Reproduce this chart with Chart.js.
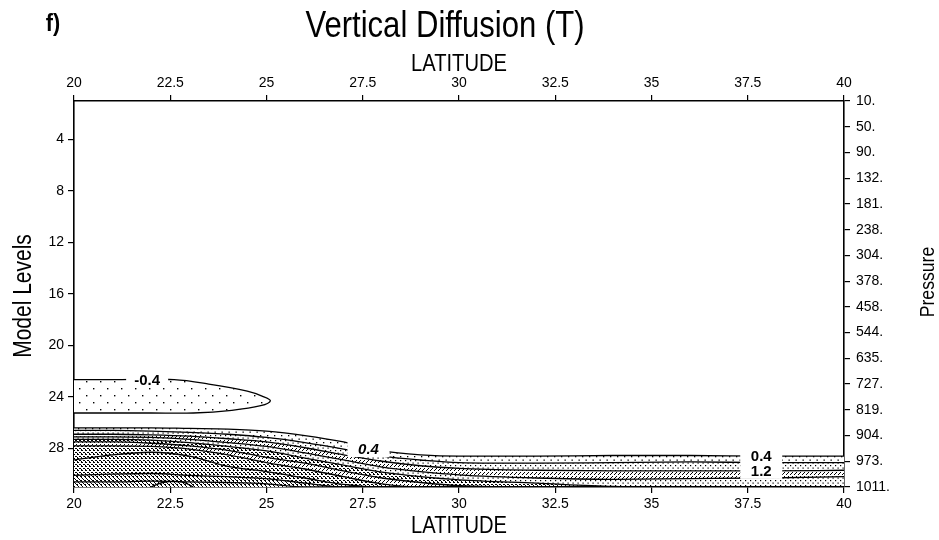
<!DOCTYPE html>
<html>
<head>
<meta charset="utf-8">
<script src="https://cdn.jsdelivr.net/npm/chart.js@4.4.1/dist/chart.umd.min.js"></script>
<style>
  html, body { margin: 0; padding: 0; background: #fff; }
  #wrap { width: 939px; height: 540px; }
</style>
</head>
<body>
<div id="wrap"><canvas id="chart" width="939" height="540"></canvas></div>
<script>
const lats = [20, 21, 22, 23, 24, 25, 26, 27, 28, 29, 30, 32, 34, 36, 38, 40]

// model level of each contour (interval 0.4), surface is level 31
const c04 = [26.4, 26.4, 26.4, 26.45, 26.5, 26.65, 27.0, 27.5, 28.2, 28.5, 28.6, 28.6, 28.55, 28.55, 28.6, 28.6]
const c08 = [26.6, 26.6, 26.65, 26.75, 26.9, 27.15, 27.55, 28.05, 28.6, 28.9, 29.1, 29.15, 29.1, 29.05, 29.1, 29.1]
const c12 = [26.9, 26.9, 26.95, 27.05, 27.25, 27.5, 27.95, 28.5, 29.0, 29.35, 29.55, 29.7, 29.75, 29.75, 29.75, 29.7]
const c16 = [27.1, 27.1, 27.15, 27.3, 27.55, 27.85, 28.35, 28.9, 29.45, 29.8, 30.05, 30.3, 30.4, 30.35, 30.3, 30.2]
const c20 = [27.3, 27.3, 27.35, 27.55, 27.85, 28.2, 28.75, 29.3, 29.85, 30.2, 30.45, 30.7, 30.95, 31, 31, 31]
const c24 = [27.5, 27.5, 27.6, 27.8, 28.15, 28.7, 29.15, 29.75, 30.3, 30.65, 30.9, 31, 31, 31, 31, 31]
const c28 = [27.8, 27.8, 27.85, 28.05, 28.5, 29.1, 29.6, 30.2, 30.75, 31, 31, 31, 31, 31, 31, 31]
const c32 = [28.9, 28.5, 28.3, 28.6, 29.4, 29.8, 30.3, 30.8, 31, 31, 31, 31, 31, 31, 31, 31]
const c36 = [30.1, 30.0, 29.95, 30.1, 30.2, 30.35, 30.7, 31, 31, 31, 31, 31, 31, 31, 31, 31]
const c40 = [30.6, 30.6, 30.55, 30.6, 30.65, 30.75, 31, 31, 31, 31, 31, 31, 31, 31, 31, 31]

const contours = [c04, c08, c12, c16, c20, c24, c28, c32, c36, c40]
const contourValues = ['0.4', '0.8', '1.2', '1.6', '2.0', '2.4', '2.8', '3.2', '3.6', '4.0']

// closed -0.4 contour, in path order
const negLats = [20, 21, 22.6, 23.5, 24.5, 24.9, 25.1, 24.85, 24.1, 23.1, 22, 21, 20]
const negLevels = [22.65, 22.65, 22.66, 23.0, 23.55, 23.95, 24.3, 24.68, 25.04, 25.25, 25.25, 25.25, 25.25]

// small closed contour at the surface
const bumpLats = [22.0, 22.3, 22.8, 23.1]
const bumpLevels = [31, 30.65, 30.6, 31]

const levelTicks = [4, 8, 12, 16, 20, 24, 28]
const pressureLevels = [1, 3, 5, 7, 9, 11, 13, 15, 17, 19, 21, 23, 25, 27, 29, 31]
const pressureLabels = ['10.', '50.', '90.', '132.', '181.', '238.', '304.', '378.', '458.', '544.', '635.', '727.', '819.', '904.', '973.', '1011.']

const lineLabels = [
  { text: '-0.4', lat: 21.9, level: 22.65, italic: false },
  { text: '0.4', lat: 27.65, level: 28.05, italic: true },
  { text: '0.4', lat: 37.85, level: 28.6, italic: false },
  { text: '1.2', lat: 37.85, level: 29.75, italic: false }
]

function pattern(size, dots, d) {
  const c = document.createElement('canvas')
  c.width = size
  c.height = size
  const g = c.getContext('2d')
  g.fillStyle = '#fff'
  g.fillRect(0, 0, size, size)
  g.fillStyle = '#000'
  dots.forEach(([x, y]) => g.fillRect(x, y, d || 1, d || 1))
  return g.createPattern(c, 'repeat')
}

const wide = pattern(14, [[2, 3], [9, 10]], 1.4)
const sparse = pattern(7, [[1, 1], [4.5, 4.5]], 1.3)
const medium = pattern(5, [[0, 0], [2.5, 2.5]], 1.2)
const cross = pattern(4, [[0, 0], [1, 1], [2, 2], [3, 0], [1, 2]])
const light = pattern(4, [[0, 0], [2, 2], [3, 1]])
const hatch = pattern(4, [[0, 0], [1, 1], [2, 2], [3, 3], [1, 0]])

const bandFills = [sparse, medium, light, medium, cross, light, cross, cross, hatch, hatch]

const font = { family: 'Liberation Sans, Arial, sans-serif', size: 14 }

const datasets = contours.map((lev, i) => ({
  label: contourValues[i],
  data: lats.map((x, j) => ({ x: x, y: lev[j] })),
  borderColor: '#000',
  borderWidth: 1.3,
  pointRadius: 0,
  cubicInterpolationMode: 'monotone',
  fill: i < contours.length - 1 ? '+1' : { value: 31 },
  backgroundColor: bandFills[i]
}))

datasets.push({
  label: '-0.4',
  data: negLats.map((x, j) => ({ x: x, y: negLevels[j] })),
  borderColor: '#000',
  borderWidth: 1.3,
  pointRadius: 0,
  tension: 0.35,
  fill: 'shape',
  backgroundColor: wide
})

datasets.push({
  label: 'bump',
  data: bumpLats.map((x, j) => ({ x: x, y: bumpLevels[j] })),
  borderColor: '#000',
  borderWidth: 1.3,
  pointRadius: 0,
  tension: 0.4,
  fill: 'shape',
  backgroundColor: hatch
})

function narrowText(ctx, text, x, y, size, opts) {
  opts = opts || {}
  ctx.save()
  ctx.translate(x, y)
  if (opts.rotate) ctx.rotate(opts.rotate)
  ctx.scale(opts.sx || 0.84, 1)
  ctx.font = (opts.bold ? 'bold ' : '') + size + 'px "Liberation Sans", Arial, sans-serif'
  ctx.fillStyle = '#000'
  ctx.textAlign = 'center'
  ctx.textBaseline = 'alphabetic'
  ctx.fillText(text, 0, 0)
  ctx.restore()
}

const textPlugin = {
  id: 'texts',
  afterDatasetsDraw(chart) {
    const ctx = chart.ctx
    const xs = chart.scales.x
    const ys = chart.scales.y
    lineLabels.forEach(l => {
      const px = xs.getPixelForValue(l.lat)
      const py = ys.getPixelForValue(l.level)
      ctx.save()
      ctx.fillStyle = '#fff'
      ctx.fillRect(px - 21, py - 8, 42, 16)
      ctx.font = (l.italic ? 'italic ' : '') + 'bold 15px "Liberation Sans", Arial, sans-serif'
      ctx.fillStyle = '#000'
      ctx.textAlign = 'center'
      ctx.textBaseline = 'middle'
      ctx.fillText(l.text, px, py + 1)
      ctx.restore()
    })
  },
  afterDraw(chart) {
    const ctx = chart.ctx
    const a = chart.chartArea
    const mid = (a.left + a.right) / 2
    narrowText(ctx, 'f)', 53, 31, 24, { bold: true, sx: 0.9 })
    narrowText(ctx, 'Vertical Diffusion (T)', mid - 14, 37, 37)
    narrowText(ctx, 'LATITUDE', mid, 71, 24)
    narrowText(ctx, 'LATITUDE', mid, 533, 24)
    narrowText(ctx, 'Model Levels', 31, (a.top + a.bottom) / 2 + 2, 25, { rotate: -Math.PI / 2 })
    narrowText(ctx, 'Pressure', 934, (a.top + a.bottom) / 2 - 12, 21, { rotate: -Math.PI / 2 })
  }
}

const axisGrid = { drawOnChartArea: false, color: '#000', tickLength: 6, lineWidth: 1.2 }
const axisBorder = { color: '#000', width: 1.6 }

new Chart(document.getElementById('chart'), {
  type: 'line',
  data: { datasets: datasets },
  plugins: [textPlugin],
  options: {
    responsive: false,
    animation: false,
    layout: { padding: { left: 40, right: 0, top: 75, bottom: 28 } },
    plugins: {
      legend: { display: false },
      tooltip: { enabled: false },
      filler: { drawTime: 'beforeDatasetsDraw' }
    },
    scales: {
      x: {
        type: 'linear', position: 'bottom', min: 20, max: 40,
        ticks: { stepSize: 2.5, color: '#000', font: font, padding: 3, maxRotation: 0 },
        grid: axisGrid, border: axisBorder,
        afterFit: s => { s.height = 25 }
      },
      x2: {
        type: 'linear', position: 'top', min: 20, max: 40,
        ticks: { stepSize: 2.5, color: '#000', font: font, padding: 3, maxRotation: 0 },
        grid: axisGrid, border: axisBorder,
        afterFit: s => { s.height = 26 }
      },
      y: {
        type: 'linear', position: 'left', min: 1, max: 31, reverse: true,
        afterBuildTicks: s => { s.ticks = levelTicks.map(v => ({ value: v })) },
        ticks: { color: '#000', font: font, padding: 4, autoSkip: false },
        grid: axisGrid, border: axisBorder,
        afterFit: s => { s.width = 34 }
      },
      y2: {
        type: 'linear', position: 'right', min: 1, max: 31, reverse: true,
        afterBuildTicks: s => { s.ticks = pressureLevels.map(v => ({ value: v })) },
        ticks: {
          color: '#000', font: font, padding: 6, autoSkip: false,
          callback: v => pressureLabels[pressureLevels.indexOf(v)]
        },
        grid: axisGrid, border: axisBorder,
        afterFit: s => { s.width = 95 }
      }
    }
  }
})
</script>
</body>
</html>
